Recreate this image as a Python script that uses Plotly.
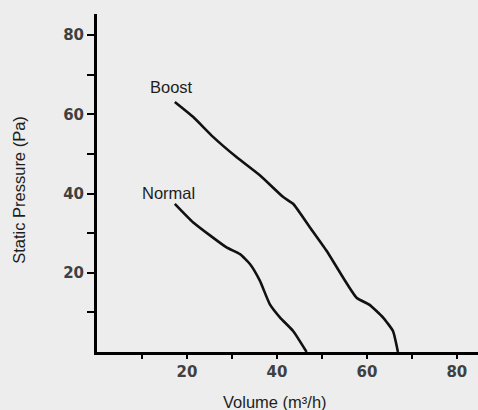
import plotly.graph_objects as go

# Data
boost_x = [17.3, 21.4, 25.8, 31.0, 36.2, 41.4, 43.6, 47.3, 51.0, 54.7, 57.7, 60.6, 63.6, 65.8, 66.9]
boost_y = [63.1, 59.3, 54.3, 49.2, 44.6, 39.1, 37.4, 31.5, 25.6, 18.8, 13.7, 11.9, 8.7, 5.3, 0.0]
normal_x = [17.3, 21.4, 28.8, 31.8, 34.0, 36.2, 38.4, 40.7, 43.6, 46.6]
normal_y = [37.4, 32.7, 26.4, 24.7, 22.2, 18.0, 12.1, 8.7, 5.3, 0.0]
major_ticks = [20, 40, 60, 80]
minor_ticks = [10, 30, 50, 70]

BG = "#ecedec"
tickfont = dict(family="DejaVu Sans", size=15, color="#404040", weight="bold")
txtfont = dict(family="Liberation Sans Narrow, Arial Narrow, Liberation Sans, sans-serif", size=16.5, color="#1e1e1e")

fig = go.Figure()
for xs, ys in [(boost_x, boost_y), (normal_x, normal_y)]:
    fig.add_trace(go.Scatter(x=xs, y=ys, mode="lines",
                             line=dict(color="#111111", width=2.6, shape="spline", smoothing=0.45),
                             showlegend=False, hoverinfo="skip"))

axis_common = dict(showline=True, linewidth=3, linecolor="black", showgrid=False, zeroline=False,
                   tickvals=major_ticks, ticks="outside", tickwidth=2, tickcolor="black",
                   tickfont=tickfont)
fig.update_xaxes(range=[0, 84.7], ticklen=4,
                 minor=dict(tickvals=minor_ticks, ticks="outside", ticklen=4, tickwidth=2, tickcolor="black"),
                 **axis_common)
fig.update_yaxes(range=[0, 85.3], ticklen=7,
                 minor=dict(tickvals=minor_ticks, ticks="outside", ticklen=7, tickwidth=2, tickcolor="black"),
                 **axis_common)

fig.add_annotation(x=16.6, y=66.8, xref="x", yref="y", text="Boost", showarrow=False, font=txtfont)
fig.add_annotation(x=15.8, y=40.2, xref="x", yref="y", text="Normal", showarrow=False, font=txtfont)
fig.add_annotation(x=39.6, y=-0.148, xref="x", yref="paper", text="Volume (m³/h)", showarrow=False,
                   font=txtfont, yanchor="middle")
fig.add_annotation(x=-0.205, y=40.9, xref="paper", yref="y", text="Static Pressure (Pa)", showarrow=False,
                   font=txtfont, textangle=-90, xanchor="center")

fig.update_layout(width=478, height=410, margin=dict(l=97, r=0, t=14, b=58),
                  paper_bgcolor=BG, plot_bgcolor=BG)
fig.write_html("out.html", config={"displayModeBar": False, "staticPlot": True},
               post_script="document.body.style.margin='0';document.body.style.overflow='hidden';document.body.style.background='%s';" % BG)
